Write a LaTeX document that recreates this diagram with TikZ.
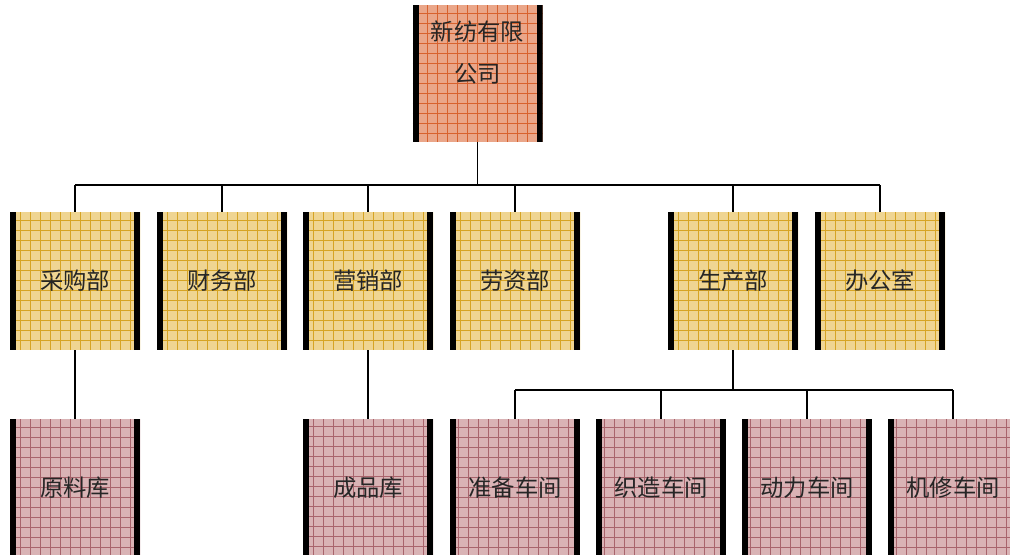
\documentclass[tikz,border=0pt]{standalone}
\usepackage{fontspec}
\setmainfont{Noto Sans CJK SC}
\definecolor{fillA}{HTML}{EAA689}
\definecolor{gridA}{HTML}{D8622E}
\definecolor{fillB}{HTML}{EFD592}
\definecolor{gridB}{HTML}{D6A424}
\definecolor{fillC}{HTML}{D9B3B5}
\definecolor{gridC}{HTML}{A8646C}
\newcommand\orgboxdeco[1]{%
  \draw[#1,line width=0.45pt,step=7.5pt] (path picture bounding box.south west) grid (path picture bounding box.north east);
  \fill[black] (path picture bounding box.south west) rectangle ([xshift=4.5pt]path picture bounding box.north west);
  \fill[black] ([xshift=-4.5pt]path picture bounding box.south east) rectangle (path picture bounding box.north east);}
\begin{document}
\begin{tikzpicture}[x=0.75pt,y=-0.75pt,
  orgbox/.style={minimum width=97.5pt, minimum height=103.5pt, inner sep=0pt, font=\fontsize{17.5}{20}\selectfont, text=black!85},
  lvlA/.style={orgbox, fill=fillA, path picture={\orgboxdeco{gridA}}},
  lvlB/.style={orgbox, fill=fillB, path picture={\orgboxdeco{gridB}}},
  lvlC/.style={orgbox, fill=fillC, path picture={\orgboxdeco{gridC}}},
  conn/.style={draw=black, line width=1.2pt}]
\useasboundingbox (0,0) rectangle (1010,555);
\clip (0,0) rectangle (1010,555);
% top
\node[lvlA, minimum height=102.75pt] (top) at (477.5,73.5) {};
\node[font=\fontsize{17.5}{31.5}\selectfont, align=center, text=black!85, anchor=north] (toptext) at (477.5,16) {新纺有限\\公司};
% row 2
\node[lvlB] (cg) at (75,281) {采购部};
\node[lvlB] (cw) at (222,281) {财务部};
\node[lvlB] (yx) at (368,281) {营销部};
\node[lvlB] (lz) at (515,281) {劳资部};
\node[lvlB] (sc) at (733,281) {生产部};
\node[lvlB] (bg) at (880,281) {办公室};
% row 3
\node[lvlC] (yl) at (75,488) {原料库};
\node[lvlC] (cp) at (368,488) {成品库};
\node[lvlC] (zb) at (515,488) {准备车间};
\node[lvlC] (zz) at (661,488) {织造车间};
\node[lvlC] (dl) at (807,488) {动力车间};
\node[lvlC] (jx) at (953,488) {机修车间};
% connectors
\coordinate (busA) at (0,185);
\coordinate (busB) at (0,390);
\draw[conn] (top.south) -- (top.south |- busA);
\draw[conn] (cg.north |- busA) -- (bg.north |- busA);
\foreach \n in {cg,cw,yx,lz,sc,bg} \draw[conn] (\n.north) -- (\n.north |- busA);
\draw[conn] (cg.south) -- (yl.north);
\draw[conn] (yx.south) -- (cp.north);
\draw[conn] (sc.south) -- (sc.south |- busB);
\draw[conn] (zb.north |- busB) -- (jx.north |- busB);
\foreach \n in {zb,zz,dl,jx} \draw[conn] (\n.north) -- (\n.north |- busB);
\end{tikzpicture}
\end{document}
